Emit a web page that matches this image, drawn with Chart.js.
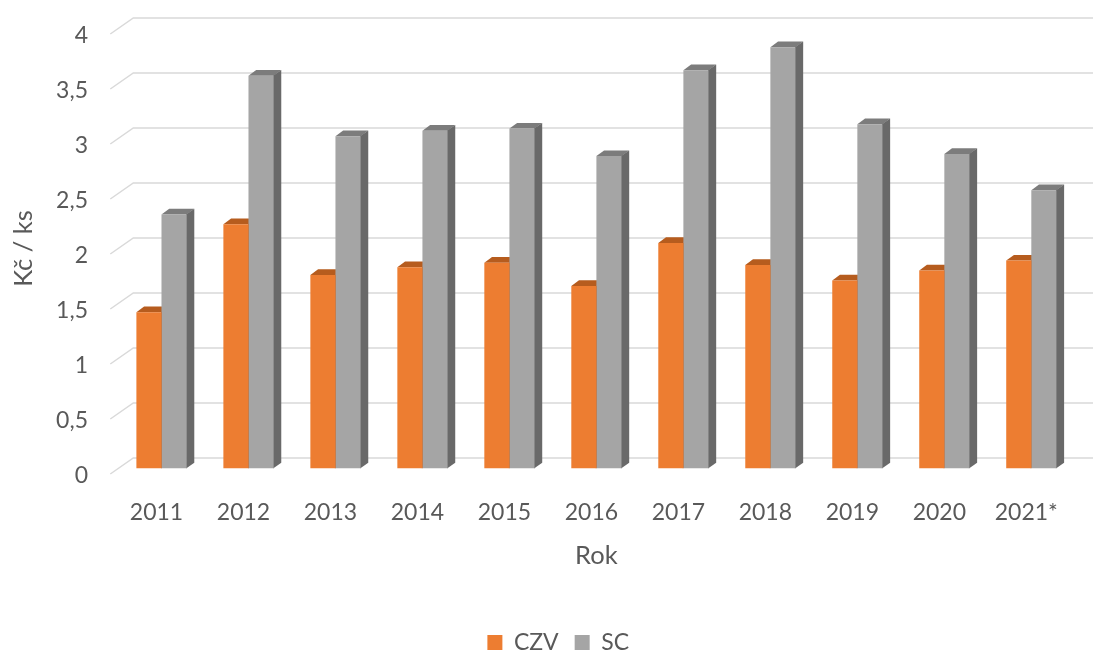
<!DOCTYPE html>
<html>
<head>
<meta charset="utf-8">
<script src="https://cdn.jsdelivr.net/npm/chart.js@4/dist/chart.umd.min.js"></script>
<style>
  html, body { margin: 0; padding: 0; background: #fff; }
  #wrap { width: 1093px; height: 653px; }
</style>
</head>
<body>
<div id="wrap"><canvas id="myChart" width="1093" height="653"></canvas></div>
<script>
// data
const years = ["2011", "2012", "2013", "2014", "2015", "2016", "2017", "2018", "2019", "2020", "2021*"];
const czv = [1.42, 2.22, 1.76, 1.83, 1.87, 1.66, 2.05, 1.85, 1.71, 1.80, 1.89];
const sc = [2.31, 3.57, 3.02, 3.07, 3.09, 2.84, 3.62, 3.83, 3.13, 2.86, 2.53];
const yTicks = [0, 0.5, 1, 1.5, 2, 2.5, 3, 3.5, 4];

const textColor = "#595959";
const fontFam = "Lato, 'Open Sans', sans-serif";

// 3D look: depth of a bar, and how far floor front / back wall sit from the bar plane
const depth = { dx: 7.7, dy: 5.7 };
const wallBack = { dx: 15.3, dy: -10.5 };
const floorFront = { dx: -7.7, dy: 5.5 };

const faceColors = [
    { top: "#b65c1e", side: "#a14f18" },
    { top: "#7c7c7c", side: "#696969" }
];

// draws the wall grid and the top/side faces, the fronts come from chart.js
const fake3d = {
    id: "fake3d",
    afterLayout(chart) {
        // move the legend to where excel put it
        const lg = chart.legend;
        if (lg) {
            lg.top += 11;
            lg.bottom += 11;
            lg.left += 13;
            lg.right += 13;
        }
    },
    beforeDatasetsDraw(chart) {
        const ctx = chart.ctx;
        const area = chart.chartArea;
        const yScale = chart.scales.y;

        ctx.save();
        ctx.strokeStyle = "#d9d9d9";
        ctx.lineWidth = 1.5;
        for (let v of yTicks) {
            const y = yScale.getPixelForValue(v);
            ctx.beginPath();
            ctx.moveTo(area.left + floorFront.dx, y + floorFront.dy);
            ctx.lineTo(area.left + wallBack.dx, y + wallBack.dy);
            ctx.lineTo(chart.width, y + wallBack.dy);
            ctx.stroke();
        }

        chart.data.datasets.forEach((ds, i) => {
            const meta = chart.getDatasetMeta(i);
            meta.data.forEach(bar => {
                const left = bar.x - bar.width / 2;
                const right = bar.x + bar.width / 2;
                // top
                ctx.fillStyle = faceColors[i].top;
                ctx.beginPath();
                ctx.moveTo(left, bar.y);
                ctx.lineTo(right, bar.y);
                ctx.lineTo(right + depth.dx, bar.y - depth.dy);
                ctx.lineTo(left + depth.dx, bar.y - depth.dy);
                ctx.closePath();
                ctx.fill();
                // side
                ctx.fillStyle = faceColors[i].side;
                ctx.beginPath();
                ctx.moveTo(right - 0.5, bar.y);
                ctx.lineTo(right + depth.dx, bar.y - depth.dy);
                ctx.lineTo(right + depth.dx, bar.base - depth.dy);
                ctx.lineTo(right - 0.5, bar.base);
                ctx.closePath();
                ctx.fill();
            });
        });
        ctx.restore();
    }
};

const ctx = document.getElementById("myChart").getContext("2d");

const myChart = new Chart(ctx, {
    type: "bar",
    data: {
        labels: years,
        datasets: [{
            label: "CZV",
            data: czv,
            backgroundColor: "#ed7d31",
            borderWidth: 0
        }, {
            label: "SC",
            data: sc,
            backgroundColor: "#a5a5a5",
            borderWidth: 0
        }]
    },
    options: {
        responsive: false,
        animation: false,
        categoryPercentage: 0.577,
        barPercentage: 1,
        layout: {
            padding: { top: 28.5, right: 2.6, left: 0, bottom: 0 }
        },
        plugins: {
            tooltip: { enabled: false },
            legend: {
                position: "bottom",
                labels: {
                    color: textColor,
                    font: { family: fontFam, size: 23 },
                    boxWidth: 15,
                    boxHeight: 15,
                    padding: 16
                }
            }
        },
        scales: {
            x: {
                grid: { display: false, drawTicks: false },
                border: { display: false },
                ticks: {
                    color: textColor,
                    font: { family: fontFam, size: 23 },
                    padding: 30,
                    labelOffset: -5,
                    maxRotation: 0
                },
                title: {
                    display: true,
                    text: "Rok",
                    color: textColor,
                    font: { family: fontFam, size: 25.5 },
                    padding: { top: 0, bottom: 33 }
                },
                afterFit(scale) {
                    const lg = scale.chart.legend;
                    scale.height = 653 - 468.5 - (lg ? lg.height : 0);
                }
            },
            y: {
                min: 0,
                max: 4,
                grid: { display: false, drawTicks: false },
                border: { display: false },
                ticks: {
                    stepSize: 0.5,
                    color: textColor,
                    font: { family: fontFam, size: 23 },
                    padding: 30,
                    labelOffset: 7.5,
                    callback: (v) => String(v).replace(".", ",")
                },
                title: {
                    display: true,
                    text: "Kč / ks",
                    color: textColor,
                    font: { family: fontFam, size: 25.5 },
                    padding: { top: 8, bottom: 0 }
                },
                afterFit(scale) {
                    scale.width = 118;
                    scale.paddingTop = 0;
                    scale.paddingBottom = 0;
                }
            }
        }
    },
    plugins: [fake3d]
});
</script>
</body>
</html>
